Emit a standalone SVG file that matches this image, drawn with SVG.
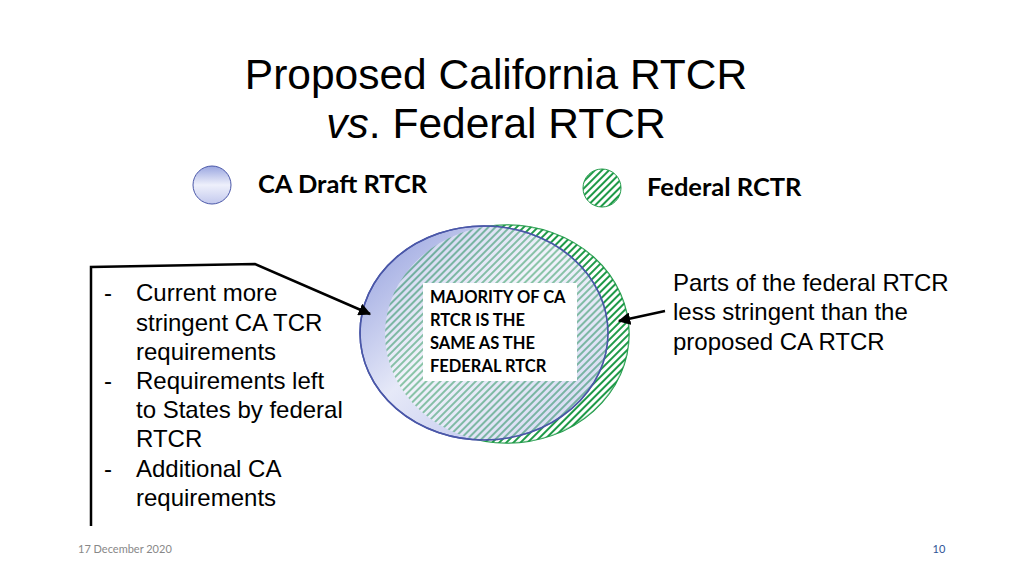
<svg xmlns="http://www.w3.org/2000/svg" width="1024" height="576" viewBox="0 0 1024 576">
<style>
.t{font-family:"Liberation Sans",Arial,sans-serif;fill:#000}
.c{font-family:Lato,"Open Sans",sans-serif;font-weight:bold;fill:#000}
.ln{stroke:#000;stroke-width:2.5;fill:none}
</style>
<defs>
<linearGradient id="bg" x1="0" y1="0" x2="0" y2="1">
<stop offset="0" stop-color="#9aa6e0"/><stop offset="0.5" stop-color="#eef0fb"/><stop offset="1" stop-color="#c3c9ee"/>
</linearGradient>
<linearGradient id="bg2" x1="0" y1="0" x2="1" y2="1">
<stop offset="0" stop-color="#8f9bdc"/><stop offset="0.45" stop-color="#e6e9f8"/><stop offset="1" stop-color="#aab3e6"/>
</linearGradient>
<pattern id="h" width="5" height="5" patternUnits="userSpaceOnUse" patternTransform="rotate(45)">
<rect width="5" height="5" fill="#fff"/><rect width="2" height="5" fill="#1f9a48"/>
</pattern>
<marker id="a" viewBox="0 0 10 10" refX="9" refY="5" markerWidth="5" markerHeight="5" orient="auto"><path d="M0,0L10,5L0,10z" fill="#000"/></marker>
</defs>
<text class="t" x="496" y="89" font-size="42.5" text-anchor="middle">Proposed California RTCR</text>
<text class="t" x="496" y="138" font-size="42.5" text-anchor="middle"><tspan font-style="italic">vs</tspan>. Federal RTCR</text>
<g id="legend-ca"><circle cx="212" cy="185" r="19" fill="url(#bg)" stroke="#4a57a8"/><text class="c" x="258" y="193" font-size="25.5">CA Draft RTCR</text></g>
<g id="legend-fed"><circle cx="602" cy="188" r="19" fill="url(#h)" stroke="#1f9a48"/><text class="c" x="647" y="196" font-size="25.5">Federal RCTR</text></g>
<g id="venn">
<ellipse cx="507" cy="334" rx="122" ry="109" fill="url(#h)" stroke="#1f9a48" stroke-width="1.5"/>
<ellipse cx="484" cy="333" rx="124" ry="107" fill="url(#bg2)" stroke="#4a57a8" stroke-width="1.5"/>
<ellipse cx="507" cy="334" rx="122" ry="109" fill="url(#h)" opacity="0.45" stroke="none"/>
<ellipse cx="484" cy="333" rx="124" ry="107" fill="none" stroke="#4a57a8" stroke-width="1.5"/>
<rect x="423" y="283" width="154" height="98" fill="#fff"/>
<text class="c" font-size="16.5"><tspan x="430" y="303">MAJORITY OF CA</tspan><tspan x="430" y="326">RTCR IS THE</tspan><tspan x="430" y="349">SAME AS THE</tspan><tspan x="430" y="372">FEDERAL RTCR</tspan></text>
</g>
<g id="left-text" class="t" font-size="24">
<text x="104" y="301">-</text><text x="136" y="301">Current more</text>
<text x="136" y="331">stringent CA TCR</text>
<text x="136" y="360">requirements</text>
<text x="104" y="389">-</text><text x="136" y="389">Requirements left</text>
<text x="136" y="418">to States by federal</text>
<text x="136" y="447">RTCR</text>
<text x="104" y="477">-</text><text x="136" y="477">Additional CA</text>
<text x="136" y="506">requirements</text>
</g>
<g id="right-text" class="t" font-size="24">
<text x="673" y="291">Parts of the federal RTCR</text>
<text x="673" y="320">less stringent than the</text>
<text x="673" y="350">proposed CA RTCR</text>
</g>
<g id="connectors">
<path class="ln" d="M91,526V267L255,264L370,314" marker-end="url(#a)"/>
<path class="ln" d="M665,311L619,321" marker-end="url(#a)"/>
</g>
<text x="78" y="553" font-family="Lato,sans-serif" font-size="11" fill="#888">17 December 2020</text>
<text x="939" y="553" font-family="Lato,sans-serif" font-size="11" fill="#2f5597" text-anchor="middle">10</text>
</svg>
